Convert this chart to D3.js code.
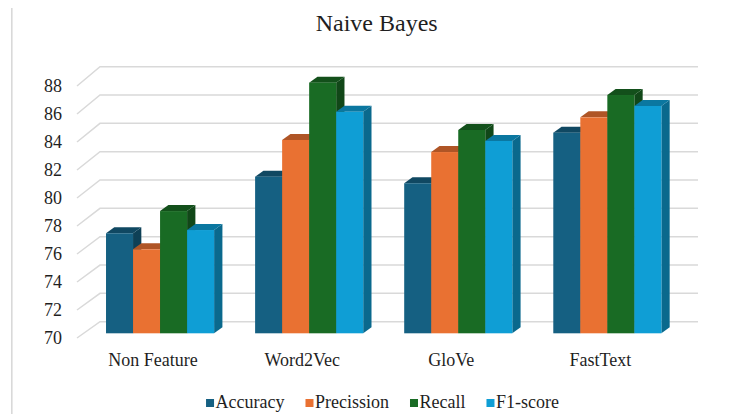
<!DOCTYPE html>
<html>
<head>
<meta charset="utf-8">
<script src="https://cdn.jsdelivr.net/npm/d3@7"></script>
<style>
  html, body { margin: 0; padding: 0; background: #fff; }
  svg { display: block; }
</style>
</head>
<body>
<svg id="chart" width="729" height="414"></svg>
<script>
// ---- data ----
const title = "Naive Bayes";
const categories = ["Non Feature", "Word2Vec", "GloVe", "FastText"];
const seriesNames = ["Accuracy", "Precission", "Recall", "F1-score"];
const accuracy   = [77.12, 81.15, 80.68, 84.28];
const precission = [75.98, 83.76, 82.90, 85.37];
const recall     = [78.70, 87.84, 84.47, 86.96];
const f1score    = [77.35, 85.77, 83.69, 86.18];
const yTicks = [70, 72, 74, 76, 78, 80, 82, 84, 86, 88];
const colors = ["#156082", "#E97132", "#196B24", "#0F9ED5"];

const seriesValues = [accuracy, precission, recall, f1score];
const FONT = "Liberation Serif";
const TEXT = "#1f1f1f";

const svg = d3.select("#chart").attr("font-family", FONT);

// ---- scales (3D projection: front plane, bar plane, back wall) ----
const yDomain = [70, 88];
const yFront = d3.scaleLinear().domain(yDomain).range([338, 86]);
const yBack  = d3.scaleLinear().domain(yDomain).range([321.7, 66.7]);
const yBar   = d3.scaleLinear().domain(yDomain).range([333.3, 80.4]);
const backX0 = 100, backX1 = 698, frontX = 77;
const depthDx = 8.3, depthDy = 6;

const xGroup = d3.scaleBand().domain(categories)
  .range([76.2, 691.2]).paddingInner(0.275).paddingOuter(0.2);
const xSeries = d3.scaleBand().domain(seriesNames)
  .range([0, xGroup.bandwidth()]).padding(0);
const color = d3.scaleOrdinal().domain(seriesNames).range(colors);

// ---- outer border line (left) ----
svg.append("line")
  .attr("x1", 11.8).attr("x2", 11.8).attr("y1", 8).attr("y2", 414)
  .attr("stroke", "#d9d9d9").attr("stroke-width", 1.6);

// ---- title ----
svg.append("text")
  .attr("x", 376.7).attr("y", 30.5)
  .attr("text-anchor", "middle")
  .attr("font-family", FONT)
  .attr("font-size", 24).attr("fill", TEXT)
  .text(title);

// ---- gridlines (back wall + side) ----
const grid = svg.append("g").attr("stroke", "#d9d9d9").attr("stroke-width", 1.5).attr("fill", "none");
yTicks.forEach(t => {
  grid.append("path")
    .attr("d", `M${frontX},${yFront(t)}L${backX0},${yBack(t)}L${backX1},${yBack(t)}`);
});

// ---- y labels ----
svg.append("g").selectAll("text").data(yTicks).join("text")
  .attr("x", 62).attr("y", d => yFront(d)).attr("dy", "0.34em")
  .attr("text-anchor", "end").attr("font-family", FONT).attr("font-size", 18).attr("fill", TEXT)
  .text(d => d);

// ---- bars ----
const bars = [];
categories.forEach((c, ci) => {
  seriesNames.forEach((s, si) => {
    bars.push({ cat: c, series: s, value: seriesValues[si][ci] });
  });
});

const barG = svg.append("g");
bars.forEach(b => {
  const x = xGroup(b.cat) + xSeries(b.series);
  const w = xSeries.bandwidth();
  const yT = yBar(b.value), yB = yBar(yDomain[0]);
  const base = d3.color(color(b.series));
  const topC = base.darker(0.8).formatHex();
  const sideC = base.darker(1.15).formatHex();
  const g = barG.append("g");
  g.append("path")
    .attr("d", `M${x + w},${yT}L${x + w + depthDx},${yT - depthDy}L${x + w + depthDx},${yB - depthDy}L${x + w},${yB}Z`)
    .attr("fill", sideC);
  g.append("path")
    .attr("d", `M${x},${yT}L${x + depthDx},${yT - depthDy}L${x + w + depthDx},${yT - depthDy}L${x + w},${yT}Z`)
    .attr("fill", topC);
  g.append("rect")
    .attr("x", x).attr("y", yT).attr("width", w).attr("height", yB - yT)
    .attr("fill", base.formatHex());
});

// ---- category labels ----
svg.append("g").selectAll("text").data(categories).join("text")
  .attr("x", d => xGroup(d) + xGroup.bandwidth() / 2 - 7)
  .attr("y", 366)
  .attr("text-anchor", "middle").attr("font-family", FONT).attr("font-size", 18).attr("fill", TEXT)
  .text(d => d);

// ---- legend ----
const legend = svg.append("g");
let lx = 0;
seriesNames.forEach((s, i) => {
  const g = legend.append("g");
  g.append("rect").attr("x", 0).attr("y", -4).attr("width", 8).attr("height", 8)
    .attr("fill", colors[i]);
  const t = g.append("text").attr("x", 9.5).attr("y", 5.3)
    .attr("font-family", FONT).attr("font-size", 18).attr("fill", TEXT).text(s);
  const tw = t.node().getComputedTextLength();
  g.attr("transform", `translate(${lx},403)`);
  lx += 9.5 + tw + 21;
});
const totalW = lx - 21;
legend.attr("transform", `translate(${382.5 - totalW / 2},0)`);
</script>
</body>
</html>
